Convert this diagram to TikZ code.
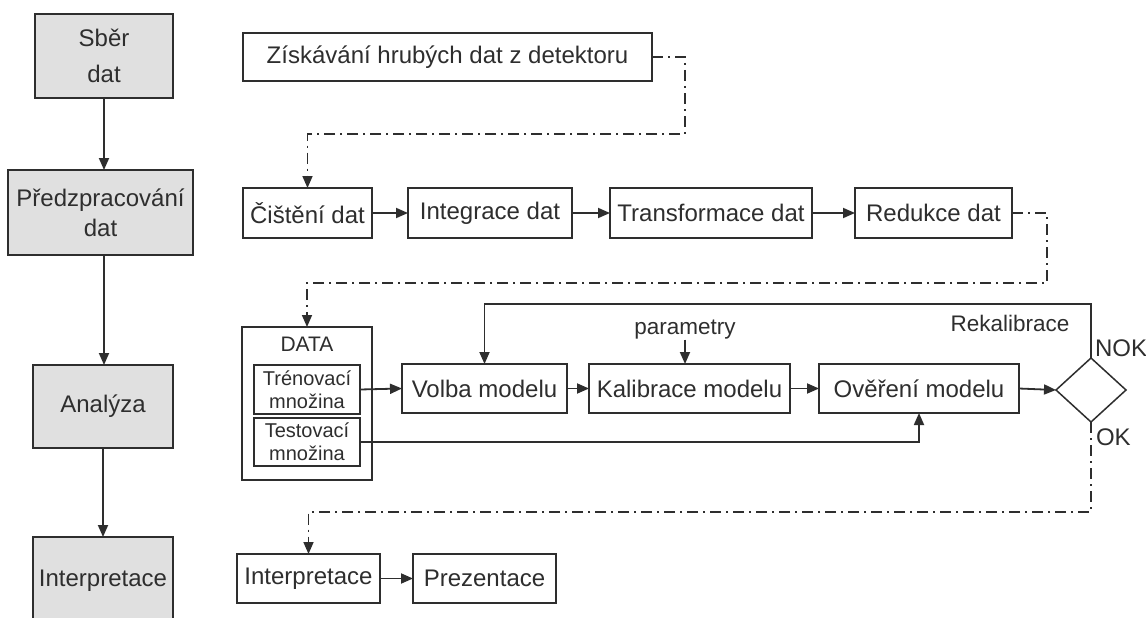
\documentclass[tikz,border=0pt]{standalone}
\usepackage{fontspec}
\setmainfont{Liberation Sans}
\usetikzlibrary{arrows.meta,shapes.geometric}
\definecolor{ink}{HTML}{2E2E2E}
\definecolor{boxgray}{HTML}{E0E0E0}
\begin{document}
\begin{tikzpicture}[x=1pt,y=-1pt,
  box/.style={draw=ink, line width=1.5pt, text=ink, inner sep=0pt, outer sep=0pt, align=center, font=\fontsize{24}{30}\selectfont},
  stagebox/.style={box, fill=boxgray},
  smallbox/.style={box, font=\fontsize{20}{23}\selectfont},
  lbl/.style={text=ink, inner sep=0pt, outer sep=0pt, font=\fontsize{22.5}{26}\selectfont},
  biglbl/.style={text=ink, inner sep=0pt, outer sep=0pt, font=\fontsize{24}{28}\selectfont},
  arr/.style={draw=ink, line width=1.8pt, -{Triangle[length=12pt,width=10pt]}},
  dd/.style={draw=ink, line width=1.6pt, dash pattern=on 11pt off 5pt on 2pt off 5pt},
  ddarr/.style={dd, -{Triangle[length=12pt,width=10pt]}}
]
\useasboundingbox[fill=white] (0,0) rectangle (1146,618);

% left column
\node[stagebox, minimum width=138pt, minimum height=84pt, font=\fontsize{24}{36}\selectfont] (sber) at (104,56) {Sběr\\dat};
\node[stagebox, minimum width=185pt, minimum height=85pt] (pred) at (100.5,212.5) {Předzpracování\\dat};
\node[stagebox, minimum width=140pt, minimum height=83pt] (anal) at (103,406.5) {Analýza};
\node[stagebox, minimum width=140pt, minimum height=88pt] (interpA) at (103,581) {Interpretace};

\draw[arr] (sber.south) -- (sber.south |- pred.north);
\draw[arr] (sber.south |- pred.south) -- (sber.south |- anal.north);
\draw[arr] (anal.south) -- (anal.south |- interpA.north);

% row 1
\node[box, minimum width=409pt, minimum height=48pt] (zisk) at (447.5,57) {Získávání hrubých dat z detektoru};

% row 2
\node[box, minimum width=129pt, minimum height=50pt] (cist) at (307.5,213) {Čištění dat};
\node[box, minimum width=164pt, minimum height=50pt] (integ) at (490,213) {Integrace dat};
\node[box, minimum width=202pt, minimum height=50pt] (trans) at (711,213) {Transformace dat};
\node[box, minimum width=157pt, minimum height=50pt] (red) at (933.5,213) {Redukce dat};

\coordinate (zc) at (685,134);
\draw[ddarr] (zisk.east) -| (zc) -| (cist.north);
\draw[arr] (cist.east) -- (integ.west);
\draw[arr] (integ.east) -- (trans.west);
\draw[arr] (trans.east) -- (red.west);

% row 3
\node[box, minimum width=130pt, minimum height=153pt] (data) at (307,403.5) {};
\node[text=ink, inner sep=0pt, font=\fontsize{21}{24}\selectfont] (datalbl) at (307,344) {DATA};
\node[smallbox, minimum width=106pt, minimum height=49pt] (tren) at (307,389.5) {Trénovací\\množina};
\node[smallbox, minimum width=106pt, minimum height=48pt] (test) at (307,442) {Testovací\\množina};

\node[box, minimum width=165pt, minimum height=49pt] (volba) at (484.5,388.5) {Volba modelu};
\node[box, minimum width=201pt, minimum height=49pt] (kal) at (689.5,388.5) {Kalibrace modelu};
\node[box, minimum width=200pt, minimum height=49pt] (over) at (919,388.5) {Ověření modelu};
\node[draw=ink, line width=1.5pt, shape=diamond, minimum width=70pt, minimum height=64pt, inner sep=0pt, outer sep=0pt] (diam) at (1091,390) {};

\coordinate (rc) at (1047,283);
\draw[ddarr] (red.east) -| (rc) -| (data.north);

\node[lbl] (param) at (685,330) {parametry};
\node[lbl] (rekal) at (1010,323) {Rekalibrace};
\node[biglbl, anchor=west] (nok) at (1095,348) {NOK};
\node[biglbl, anchor=west] (ok) at (1096,437) {OK};

\draw[arr] (tren.east) -- (volba.west);
\draw[arr] (volba.east) -- (kal.west);
\draw[arr] (kal.east) -- (over.west);
\draw[arr] (over.east) -- (diam.west);
\draw[arr] (param.south) -- (param.south |- kal.north);
\draw[arr] (test.east) -| (over.south);
\coordinate (rk) at (0,304);
\draw[arr] (diam.north) -- (diam.north |- rk) -| (volba.north);

% row 4
\node[box, minimum width=143pt, minimum height=49pt] (interp) at (308.5,578.5) {Interpretace};
\node[box, minimum width=143pt, minimum height=49pt] (prez) at (484.5,578.5) {Prezentace};

\coordinate (okc) at (0,512);
\draw[ddarr] (diam.south) -- (diam.south |- okc) -| (interp.north);
\draw[arr] (interp.east) -- (prez.west);
\end{tikzpicture}
\end{document}
